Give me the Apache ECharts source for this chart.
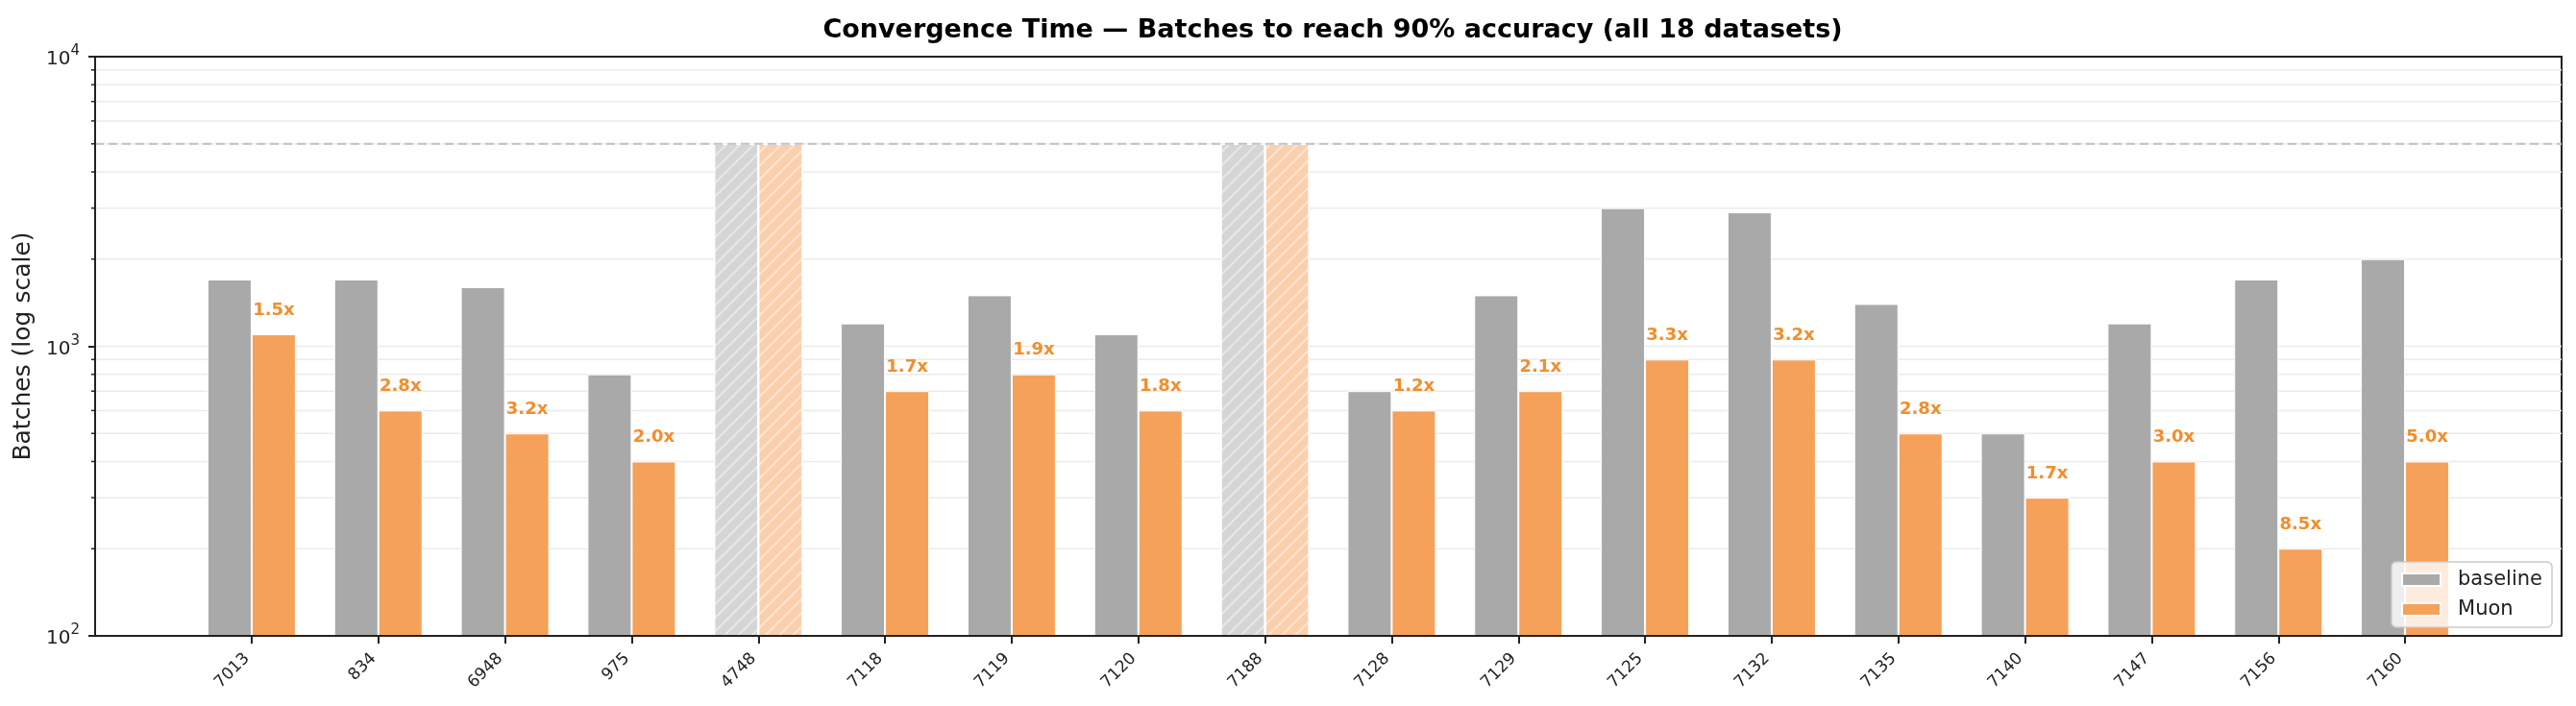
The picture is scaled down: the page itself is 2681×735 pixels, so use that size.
<!doctype html>
<html>
<head>
<meta charset="UTF-8">
<title>Convergence Time</title>
<script type="text/javascript" src="https://cdn.jsdelivr.net/npm/echarts@6.0.0/dist/echarts.min.js"></script>
<style>
    html, body { margin: 0; padding: 0; background: #fff; }
    #main { width: 2681px; height: 735px; }
</style>
</head>
<body>
<div id="main"></div>
<script type="text/javascript">
var datasets = ['7013', '834', '6948', '975', '4748', '7118', '7119', '7120', '7188',
                '7128', '7129', '7125', '7132', '7135', '7140', '7147', '7156', '7160'];
var baseline = [1700, 1700, 1600, 800, 5000, 1200, 1500, 1100, 5000,
                700, 1500, 3000, 2900, 1400, 500, 1200, 1700, 2000];
var muon = [1100, 600, 500, 400, 5000, 700, 800, 600, 5000,
            600, 700, 900, 900, 500, 300, 400, 200, 400];
var speedupLabels = ['1.5x', '2.8x', '3.2x', '2.0x', '', '1.7x', '1.9x', '1.8x', '',
                     '1.2x', '2.1x', '3.3x', '3.2x', '2.8x', '1.7x', '3.0x', '8.5x', '5.0x'];
// runs that never reached 90% sit at the batch budget
var budget = 5000;
var yTicks = [100, 1000, 10000];
var gridValues = [200, 300, 400, 500, 600, 700, 800, 900, 1000,
                  2000, 3000, 4000, 5000, 6000, 7000, 8000, 9000];

var font = 'DejaVu Sans';
var ink = '#222222';

var hatch = {
    symbol: 'rect',
    symbolSize: 1,
    dashArrayX: [1, 0],
    dashArrayY: [1.5, 7.5],
    rotation: -Math.PI / 4,
    color: 'rgba(255,255,255,0.45)'
};

function barItems(values, fadedColor) {
    var res = [];
    for (var i = 0; i < values.length; i++) {
        if (values[i] >= budget) {
            res.push({ value: values[i], itemStyle: { color: fadedColor, decal: hatch } });
        } else {
            res.push(values[i]);
        }
    }
    return res;
}

var gridData = [];
for (var i = 0; i < gridValues.length; i++) {
    gridData.push([0, gridValues[i]]);
}

var myChart = echarts.init(document.getElementById('main'));
var option = {
    animation: false,
    backgroundColor: '#ffffff',
    textStyle: { fontFamily: font },
    title: {
        text: 'Convergence Time \u2014 Batches to reach 90% accuracy (all 18 datasets)',
        left: 1382,
        top: 12,
        textAlign: 'center',
        textStyle: { fontFamily: font, fontSize: 27, fontWeight: 'bold', color: '#000', lineHeight: 30 }
    },
    legend: {
        data: ['baseline', 'Muon'],
        orient: 'vertical',
        right: 25,
        top: 585,
        icon: 'rect',
        itemWidth: 40,
        itemHeight: 13,
        itemGap: 10,
        padding: [8, 10, 8, 10],
        backgroundColor: 'rgba(255,255,255,0.8)',
        borderColor: '#cccccc',
        borderWidth: 1.5,
        borderRadius: 5,
        textStyle: { fontFamily: font, fontSize: 21, color: ink, lineHeight: 20, padding: [0, 0, 0, 13] }
    },
    grid: [
        // frame with the log axis
        { left: 99, right: 15, top: 59, bottom: 73, show: true, borderColor: ink, borderWidth: 2 },
        // bars, inset like the matplotlib x limits
        { left: 196, right: 112, top: 59, bottom: 73 }
    ],
    xAxis: [
        {
            type: 'value', gridIndex: 0, min: 0, max: 1, z: 10,
            axisLine: { show: true, lineStyle: { color: ink, width: 2 } },
            axisTick: { show: false }, axisLabel: { show: false }, splitLine: { show: false }
        },
        {
            type: 'category', gridIndex: 1, data: datasets,
            axisLine: { show: false },
            axisTick: { show: true, alignWithLabel: true, length: 8, lineStyle: { color: ink, width: 2 } },
            axisLabel: { rotate: 45, fontSize: 17, color: ink, fontFamily: font, margin: 16, interval: 0, padding: [0, 7, 0, 0] }
        }
    ],
    yAxis: [
        {
            type: 'log', gridIndex: 0, logBase: 10, min: 100, max: 10000, z: 10,
            name: 'Batches (log scale)',
            nameLocation: 'middle',
            nameGap: 62,
            nameTextStyle: { fontFamily: font, fontSize: 25, color: ink },
            axisLine: { show: true, lineStyle: { color: ink, width: 2 } },
            axisTick: { show: true, length: 7, lineStyle: { color: ink, width: 2 } },
            splitLine: { show: false },
            axisLabel: {
                margin: 16,
                formatter: function (v) {
                    return '{b|10}{s|' + Math.round(Math.log10(v)) + '}';
                },
                rich: {
                    b: { fontFamily: font, fontSize: 20, color: ink, lineHeight: 26, verticalAlign: 'bottom' },
                    s: { fontFamily: font, fontSize: 15, color: ink, lineHeight: 22, verticalAlign: 'top' }
                }
            }
        },
        {
            type: 'log', gridIndex: 1, logBase: 10, min: 100, max: 10000, show: false
        }
    ],
    series: [
        {
            // horizontal grid lines and minor ticks of the log axis
            type: 'custom',
            xAxisIndex: 0,
            yAxisIndex: 0,
            z: 1,
            silent: true,
            data: gridData,
            renderItem: function (params, api) {
                var v = api.value(1);
                var y = api.coord([0, v])[1];
                var cs = params.coordSys;
                var children = [{
                    type: 'line',
                    shape: { x1: cs.x, y1: y, x2: cs.x + cs.width, y2: y },
                    style: { stroke: '#ebebeb', lineWidth: 1.5 }
                }];
                if (yTicks.indexOf(v) < 0) {
                    children.push({
                        type: 'line',
                        shape: { x1: cs.x - 4, y1: y, x2: cs.x, y2: y },
                        style: { stroke: ink, lineWidth: 1.5 }
                    });
                }
                return { type: 'group', children: children };
            }
        },
        {
            // budget line
            type: 'line',
            xAxisIndex: 0,
            yAxisIndex: 0,
            z: 5,
            silent: true,
            symbol: 'none',
            data: [[0, budget], [1, budget]],
            lineStyle: { color: '#c0c0c0', width: 2, type: [9, 5] }
        },
        {
            name: 'baseline',
            type: 'bar',
            xAxisIndex: 1,
            yAxisIndex: 1,
            barWidth: 46,
            barGap: 0,
            z: 2,
            data: barItems(baseline, '#d5d5d5'),
            itemStyle: { color: '#a9a9a9', borderColor: '#ffffff', borderWidth: 1 }
        },
        {
            name: 'Muon',
            type: 'bar',
            xAxisIndex: 1,
            yAxisIndex: 1,
            barWidth: 46,
            barGap: 0,
            z: 2,
            data: barItems(muon, '#facfac'),
            itemStyle: { color: '#f5a15a', borderColor: '#ffffff', borderWidth: 1 },
            label: {
                show: true,
                position: 'top',
                distance: 16,
                fontFamily: font,
                fontSize: 18,
                fontWeight: 'bold',
                color: '#f28e2b',
                formatter: function (p) {
                    return speedupLabels[p.dataIndex];
                }
            }
        }
    ]
};
myChart.setOption(option);
</script>
</body>
</html>
